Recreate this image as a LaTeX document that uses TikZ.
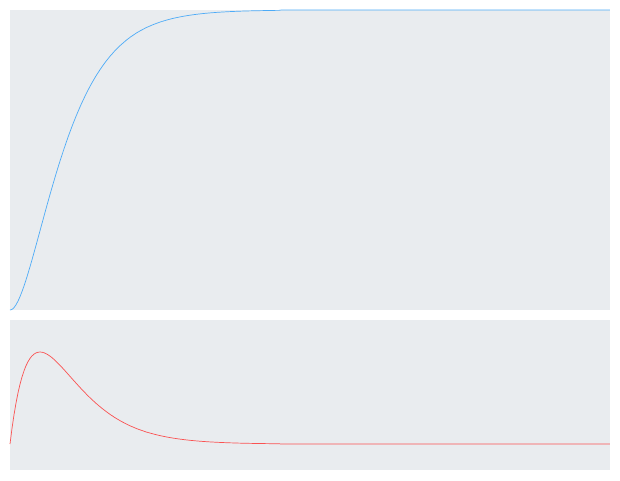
\documentclass[tikz,border=0pt]{standalone}
\usepackage{tikz}
\definecolor{panelgray}{HTML}{E9ECEF}
\definecolor{posblue}{HTML}{4DABF7}
\definecolor{velred}{HTML}{FA5252}

\begin{document}
\begin{tikzpicture}[x=1pt,y=-1pt,line width=0.7pt,
  panel/.style={fill=panelgray},
  poscurve/.style={posblue},
  velcurve/.style={velred}]
\useasboundingbox (0,0) rectangle (620,480);
  % upper panel: position
  \fill[panel] (10,10) rectangle (610,310);
  \draw[poscurve] plot[domain=0:20,samples=300] ({10+30*\x},{310-300*(1-(1+\x)*exp(-\x))});
  % lower panel: velocity
  \fill[panel] (10,320) rectangle (610,470);
  \draw[velcurve] plot[domain=0:20,samples=300] ({10+30*\x},{444-250*\x*exp(-\x)});
\end{tikzpicture}
\end{document}
